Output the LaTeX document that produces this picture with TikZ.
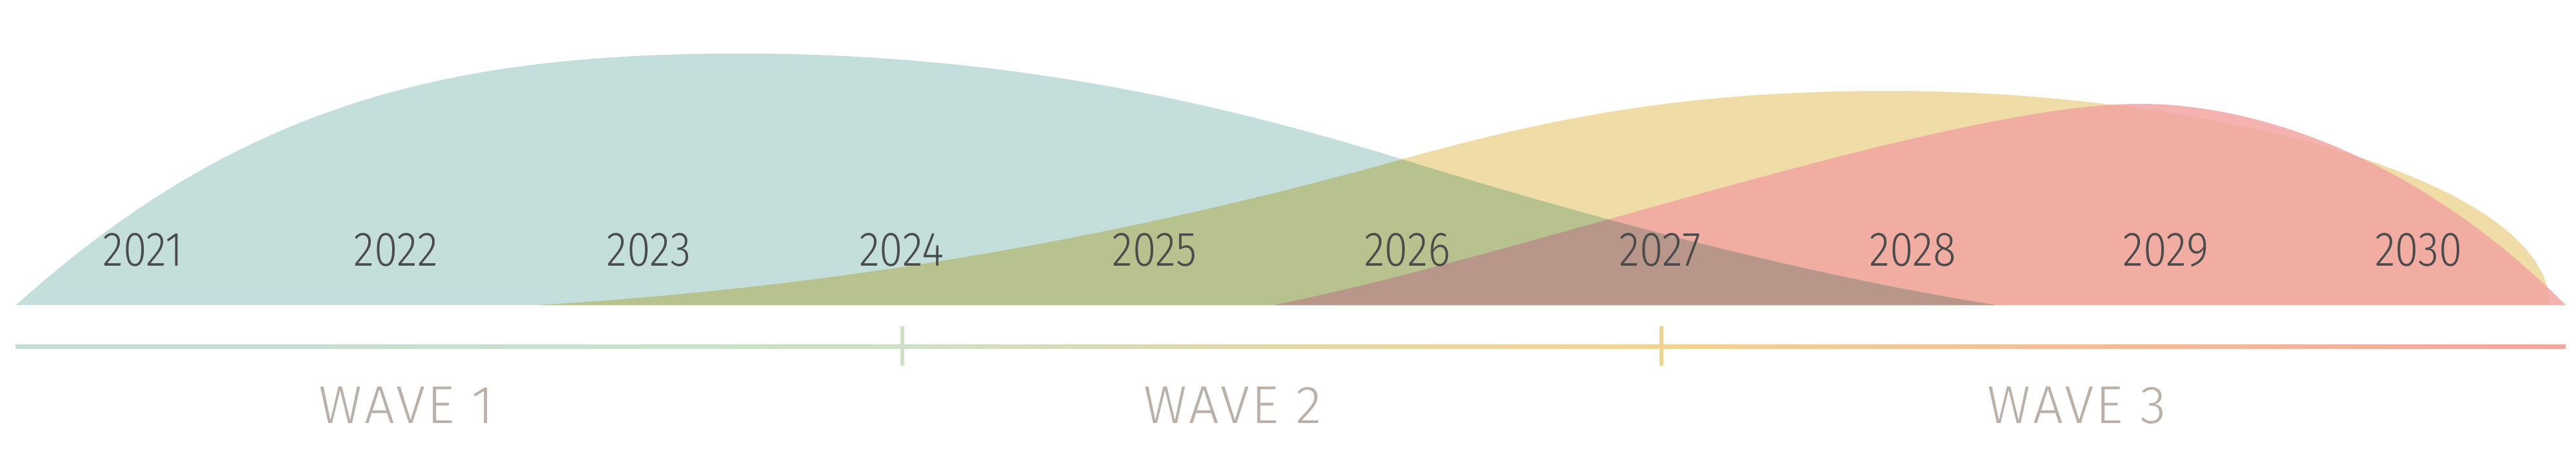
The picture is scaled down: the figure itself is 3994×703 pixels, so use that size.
\documentclass[tikz,border=0pt]{standalone}
\usepackage{fontspec}
\setmainfont{Fira Sans Light}
\newfontfamily\yearfont{Fira Sans Light}[FakeStretch=0.88]
\newfontfamily\wavefont{Fira Sans Light}[LetterSpace=4]
\definecolor{tealhill}{HTML}{C4DFDB}
\definecolor{yellowhill}{HTML}{F0DCA6}
\definecolor{redhill}{RGB}{242,164,161}
\definecolor{olivemix}{HTML}{B8C28E}
\definecolor{brownmix}{HTML}{B89689}
\definecolor{yeartext}{HTML}{4B4B4D}
\definecolor{wavetext}{HTML}{BAB0A8}
\definecolor{lineteal}{HTML}{C4DFD8}
\definecolor{linegreen}{HTML}{CEDFC6}
\definecolor{lineyellow}{HTML}{F2D294}
\definecolor{linered}{HTML}{F2A69C}
\def\tealpath{(25,473) .. controls (375,158) and (700,83) .. (1148,83) .. controls (1548,83) and (1874,154) .. (2174,247) .. controls (2474,340) and (2794,425) .. (3094,473) -- cycle}
\def\yellowpath{(835,473) .. controls (1335,443) and (1774,359) .. (2174,247) .. controls (2424,177) and (2629,141) .. (2929,141) .. controls (3429,141) and (3953,280) .. (3953,473) -- cycle}
\def\redpath{(1975,473) .. controls (2375,393) and (3020,161) .. (3320,161) .. controls (3470,161) and (3728,223) .. (3978,473) -- cycle}

\begin{document}
\begin{tikzpicture}[x=0.1mm, y=-0.1mm,
	year label/.style={font=\yearfont\fontsize{21.4}{24}\selectfont, text=yeartext, anchor=base, inner sep=0pt},
	wave label/.style={font=\wavefont\fontsize{23.5}{26}\selectfont, text=wavetext, anchor=base, inner sep=0pt},
	tick mark/.style={line width=0.6mm}]
	\useasboundingbox (0,0) rectangle (3994,703);
	
	% hills
	\fill[yellowhill] \yellowpath;
	\fill[redhill, fill opacity=0.84] \redpath;
	\fill[tealhill] \tealpath;
	\begin{scope}
		\clip \tealpath;
		\fill[olivemix] \yellowpath;
		\fill[brownmix] \redpath;
	\end{scope}
	
	% years
	\foreach \yr [count=\i from 0] in {2021,2022,2023,2024,2025,2026,2027,2028,2029,2030}
		\node[year label] (y\yr) at ({222+392*\i},412) {\yr};
	
	% timeline
	\coordinate (line start) at (24,537);
	\coordinate (wave1 end) at (1399,537);
	\coordinate (wave2 end) at (2576,537);
	\coordinate (line end) at (3978,537);
	\shade[left color=lineteal, right color=linegreen] ([yshift=0.3mm]line start) rectangle ([yshift=-0.3mm]wave1 end);
	\shade[left color=linegreen, right color=lineyellow, middle color=lineyellow!60!linegreen] ([yshift=0.3mm]wave1 end) rectangle ([yshift=-0.3mm]wave2 end);
	\shade[left color=lineyellow, right color=linered] ([yshift=0.3mm]wave2 end) rectangle ([yshift=-0.3mm]line end);
	\draw[tick mark, linegreen] ([yshift=3.1mm]wave1 end) -- ([yshift=-3mm]wave1 end);
	\draw[tick mark, lineyellow] ([yshift=3.1mm]wave2 end) -- ([yshift=-3mm]wave2 end);
	
	% waves
	\node[wave label] (wave1) at (630,656) {WAVE 1};
	\node[wave label] (wave2) at (1911,656) {WAVE 2};
	\node[wave label] (wave3) at (3220,656) {WAVE 3};
\end{tikzpicture}
\end{document}
